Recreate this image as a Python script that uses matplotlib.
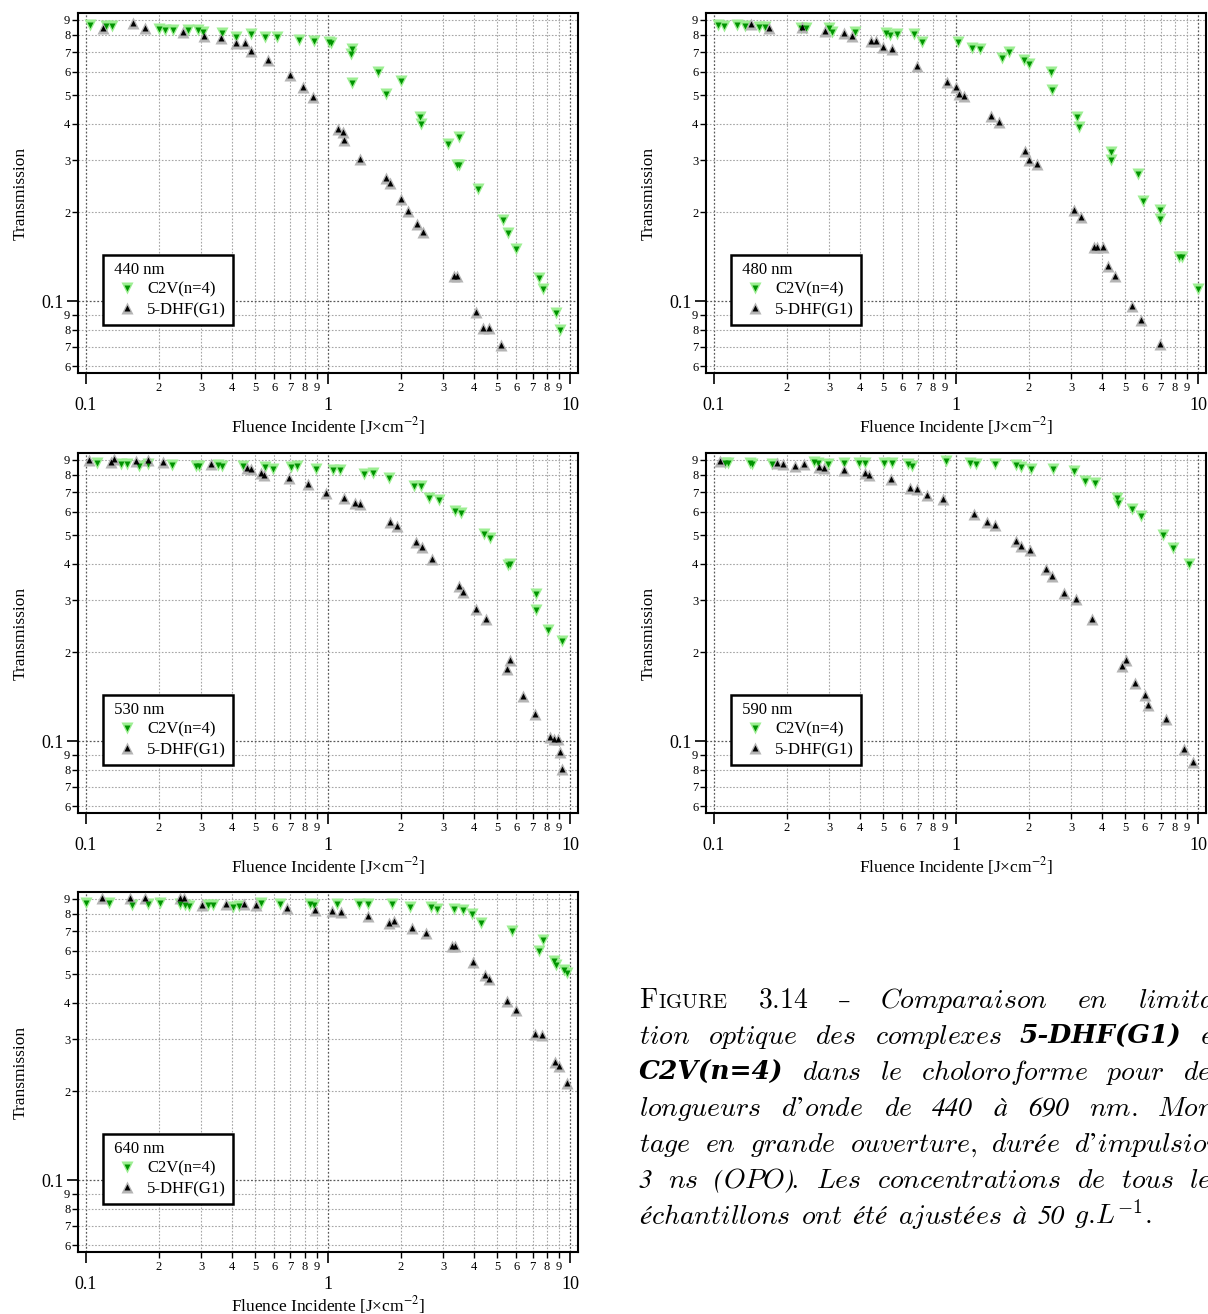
import numpy as np
import matplotlib
matplotlib.use("Agg")
import matplotlib.pyplot as plt
from matplotlib.ticker import LogLocator, FuncFormatter
from matplotlib.legend_handler import HandlerTuple
from matplotlib.transforms import IdentityTransform

plt.rcParams['font.family'] = ['Liberation Serif', 'DejaVu Serif']
plt.rcParams['mathtext.fontset'] = 'stix'

# ---------------- data ----------------
wavelengths = ["440 nm", "480 nm", "530 nm", "590 nm", "640 nm"]
series_labels = ["C2V(n=4)", "5-DHF(G1)"]

c2v_440_x = [0.104, 0.121, 0.128, 0.200, 0.212, 0.228, 0.263, 0.289, 0.305, 0.364, 0.416, 0.481, 0.547, 0.615,
             0.760, 0.874, 1.01, 1.03, 1.26, 1.25, 1.26, 1.61, 1.74, 2.00, 2.39, 2.43, 3.14, 3.49, 3.40, 3.49,
             4.16, 5.27, 5.53, 6.00, 7.46, 7.74, 8.74, 9.06]
c2v_440_y = [0.866, 0.86, 0.855, 0.84, 0.835, 0.83, 0.83, 0.83, 0.82, 0.81, 0.79, 0.805, 0.79, 0.79,
             0.77, 0.765, 0.76, 0.75, 0.715, 0.69, 0.55, 0.60, 0.505, 0.56, 0.42, 0.40, 0.34, 0.36, 0.29, 0.29,
             0.24, 0.188, 0.170, 0.150, 0.12, 0.11, 0.091, 0.080]
dhf_440_x = [0.118, 0.156, 0.175, 0.252, 0.308, 0.362, 0.416, 0.453, 0.48, 0.567, 0.694, 0.789, 0.865, 1.10,
             1.15, 1.165, 1.35, 1.74, 1.81, 2.0, 2.15, 2.34, 2.47, 3.32, 3.40, 4.08, 4.35, 4.61, 5.18]
dhf_440_y = [0.843, 0.882, 0.843, 0.817, 0.794, 0.78, 0.754, 0.75, 0.706, 0.658, 0.585, 0.531, 0.494, 0.384,
             0.374, 0.352, 0.303, 0.262, 0.252, 0.222, 0.202, 0.182, 0.171, 0.122, 0.122, 0.0915, 0.0812,
             0.0812, 0.071]

c2v_480_x = [0.104, 0.110, 0.125, 0.134, 0.153, 0.163, 0.229, 0.239, 0.298, 0.308, 0.383, 0.513, 0.532, 0.571,
             0.671, 0.726, 1.02, 1.16, 1.255, 1.555, 1.66, 1.908, 2.0, 2.48, 2.49, 3.16, 3.21, 4.36, 4.36,
             5.64, 5.95, 6.94, 6.94, 8.36, 8.61, 10.0]
c2v_480_y = [0.866, 0.86, 0.866, 0.858, 0.854, 0.854, 0.848, 0.843, 0.843, 0.817, 0.817, 0.812, 0.802, 0.806,
             0.808, 0.756, 0.756, 0.725, 0.717, 0.667, 0.698, 0.659, 0.638, 0.597, 0.519, 0.420, 0.389, 0.321,
             0.30, 0.27, 0.219, 0.203, 0.190, 0.141, 0.141, 0.110]
dhf_480_x = [0.1425, 0.169, 0.231, 0.287, 0.344, 0.372, 0.445, 0.469, 0.50, 0.545, 0.690, 0.919, 1.0, 1.031,
             1.076, 1.397, 1.50, 1.928, 2.01, 2.16, 3.07, 3.27, 3.70, 3.83, 4.05, 4.24, 4.55, 5.35, 5.80, 6.99]
dhf_480_y = [0.873, 0.848, 0.854, 0.826, 0.812, 0.795, 0.764, 0.764, 0.731, 0.718, 0.630, 0.553, 0.532, 0.504,
             0.495, 0.426, 0.404, 0.324, 0.302, 0.293, 0.203, 0.193, 0.152, 0.152, 0.152, 0.132, 0.122, 0.096,
             0.086, 0.0713]

c2v_530_x = [0.111, 0.139, 0.148, 0.166, 0.181, 0.226, 0.284, 0.294, 0.350, 0.366, 0.447, 0.547, 0.593, 0.702,
             0.747, 0.896, 1.049, 1.116, 1.415, 1.534, 1.78, 2.275, 2.42, 2.61, 2.88, 3.36, 3.56, 4.43, 4.69,
             5.57, 5.67, 7.25, 7.27, 8.09, 9.23]
c2v_530_y = [0.881, 0.874, 0.871, 0.861, 0.871, 0.867, 0.861, 0.857, 0.865, 0.857, 0.861, 0.852, 0.836, 0.852,
             0.857, 0.84, 0.83, 0.834, 0.809, 0.815, 0.78, 0.734, 0.734, 0.67, 0.658, 0.604, 0.593, 0.504, 0.49,
             0.395, 0.398, 0.316, 0.278, 0.238, 0.218]
dhf_530_x = [0.103, 0.127, 0.131, 0.161, 0.180, 0.209, 0.330, 0.464, 0.482, 0.527, 0.543, 0.689, 0.827, 0.982,
             1.17, 1.29, 1.355, 1.81, 1.93, 2.30, 2.45, 2.70, 3.47, 3.60, 4.08, 4.48, 5.47, 5.67, 6.40, 7.14,
             8.27, 8.58, 8.89, 9.06, 9.29]
dhf_530_y = [0.897, 0.888, 0.905, 0.893, 0.897, 0.886, 0.871, 0.844, 0.836, 0.815, 0.803, 0.782, 0.746, 0.693,
             0.667, 0.641, 0.637, 0.554, 0.535, 0.474, 0.456, 0.416, 0.336, 0.321, 0.28, 0.259, 0.175, 0.188,
             0.142, 0.124, 0.1035, 0.102, 0.102, 0.0918, 0.0805]

c2v_590_x = [0.111, 0.114, 0.141, 0.144, 0.174, 0.258, 0.270, 0.297, 0.346, 0.399, 0.422, 0.504, 0.545, 0.636,
             0.659, 0.909, 1.148, 1.211, 1.448, 1.763, 1.848, 2.05, 2.52, 3.07, 3.42, 3.74, 4.63, 4.68, 5.35,
             5.81, 7.17, 7.87, 9.14]
c2v_590_y = [0.882, 0.882, 0.882, 0.871, 0.871, 0.888, 0.882, 0.871, 0.882, 0.877, 0.877, 0.882, 0.877, 0.871,
             0.857, 0.89, 0.877, 0.871, 0.871, 0.867, 0.852, 0.84, 0.84, 0.823, 0.764, 0.75, 0.667, 0.641, 0.612,
             0.581, 0.499, 0.453, 0.40]
dhf_590_x = [0.1055, 0.182, 0.193, 0.217, 0.235, 0.271, 0.284, 0.344, 0.4215, 0.437, 0.541, 0.648, 0.688, 0.761,
             0.887, 1.19, 1.339, 1.448, 1.763, 1.848, 2.013, 2.348, 2.495, 2.787, 3.126, 3.633, 4.836, 5.03,
             5.48, 6.02, 6.24, 7.38, 8.73, 9.58]
dhf_590_y = [0.89, 0.877, 0.871, 0.857, 0.871, 0.852, 0.847, 0.835, 0.81, 0.80, 0.776, 0.725, 0.716, 0.683,
             0.665, 0.588, 0.556, 0.54, 0.478, 0.459, 0.445, 0.383, 0.363, 0.317, 0.304, 0.259, 0.18, 0.189,
             0.158, 0.143, 0.133, 0.1185, 0.0942, 0.085]

c2v_640_x = [0.1, 0.124, 0.155, 0.181, 0.2025, 0.245, 0.256, 0.266, 0.32, 0.334, 0.4055, 0.427, 0.527, 0.634,
             0.842, 0.874, 1.088, 1.34, 1.468, 1.841, 2.18, 2.654, 2.83, 3.316, 3.62, 3.94, 4.27, 5.74, 7.41,
             7.74, 8.58, 8.73, 9.4, 9.75]
c2v_640_y = [0.873, 0.873, 0.855, 0.866, 0.873, 0.862, 0.855, 0.85, 0.855, 0.859, 0.843, 0.85, 0.873, 0.866,
             0.866, 0.855, 0.862, 0.866, 0.866, 0.862, 0.843, 0.843, 0.83, 0.83, 0.824, 0.801, 0.744, 0.699,
             0.598, 0.655, 0.556, 0.537, 0.518, 0.504]
dhf_640_x = [0.117, 0.152, 0.175, 0.245, 0.254, 0.302, 0.38, 0.451, 0.505, 0.674, 0.886, 1.037, 1.137, 1.457,
             1.78, 1.875, 2.22, 2.54, 3.24, 3.34, 3.98, 4.44, 4.61, 5.51, 6.0, 7.19, 7.69, 8.7, 9.03, 9.75]
dhf_640_y = [0.91, 0.91, 0.91, 0.905, 0.903, 0.859, 0.866, 0.866, 0.859, 0.839, 0.828, 0.818, 0.81, 0.788,
             0.746, 0.755, 0.715, 0.69, 0.625, 0.621, 0.551, 0.497, 0.482, 0.404, 0.379, 0.313, 0.311, 0.252,
             0.243, 0.213]

c2v_x = [c2v_440_x, c2v_480_x, c2v_530_x, c2v_590_x, c2v_640_x]
c2v_y = [c2v_440_y, c2v_480_y, c2v_530_y, c2v_590_y, c2v_640_y]
dhf_x = [dhf_440_x, dhf_480_x, dhf_530_x, dhf_590_x, dhf_640_x]
dhf_y = [dhf_440_y, dhf_480_y, dhf_530_y, dhf_590_y, dhf_640_y]

x_label = "Fluence Incidente [J\u00d7cm$^{-2}$]"
y_label = "Transmission"

# ---------------- layout ----------------
W, H = 1208, 1314
fig = plt.figure(figsize=(W / 100, H / 100), dpi=100)
fig.patch.set_facecolor("white")

AW, AH = 500, 360
panel_origin = [(78, 13), (706, 13), (78, 453), (706, 453), (78, 892)]

GREEN_HALO, GREEN_CORE = "#9cee92", "#009400"
GRAY_HALO, BLACK_CORE = "#b4b4b4", "#000000"


def minor_fmt(v, pos):
    e = np.floor(np.log10(v) + 1e-9)
    return str(int(round(v / 10 ** e)))


def major_fmt(v, pos):
    if abs(v - 0.1) < 1e-9:
        return "0.1"
    return "%g" % v


def series(ax, x, y, marker, halo, core):
    h = ax.plot(x, y, ls="none", marker=marker, ms=8.2, mfc=halo, mec="none", zorder=3)[0]
    c = ax.plot(x, y, ls="none", marker=marker, ms=4.2, mfc=core, mec="none", zorder=4)[0]
    return (h, c)


for i, (l, t) in enumerate(panel_origin):
    ax = fig.add_axes([l / W, 1 - (t + AH) / H, AW / W, AH / H])
    ax.set_xscale("log")
    ax.set_yscale("log")
    ax.set_xlim(0.0927, 10.79)
    ax.set_ylim(0.0570, 0.95)
    ax.set_axisbelow(True)
    for s in ax.spines.values():
        s.set_linewidth(1.5)
    for axis in (ax.xaxis, ax.yaxis):
        axis.set_major_locator(LogLocator(base=10, numticks=10))
        axis.set_minor_locator(LogLocator(base=10, subs=np.arange(2, 10), numticks=10))
        axis.set_major_formatter(FuncFormatter(major_fmt))
        axis.set_minor_formatter(FuncFormatter(minor_fmt))
    ax.tick_params(axis="both", which="major", direction="out", length=8, width=1.2, labelsize=13)
    ax.tick_params(axis="both", which="minor", direction="out", length=4.5, width=1.0, labelsize=9)
    ax.tick_params(axis="x", which="major", pad=9)
    ax.tick_params(axis="x", which="minor", pad=2)
    ax.tick_params(axis="y", which="major", pad=2)
    ax.tick_params(axis="y", which="minor", pad=1)
    ax.grid(True, which="major", ls=(0, (1.5, 1.5)), color="0.35", lw=0.9)
    ax.grid(True, which="minor", ls=(0, (1.5, 1.5)), color="0.65", lw=0.8)

    h1 = series(ax, c2v_x[i], c2v_y[i], "v", GREEN_HALO, GREEN_CORE)
    h2 = series(ax, dhf_x[i], dhf_y[i], "^", GRAY_HALO, BLACK_CORE)

    ax.set_xlabel(x_label, fontsize=12.5)
    ax.set_ylabel(y_label, fontsize=12.5)
    ax.xaxis.set_label_coords(0.5, -0.118)
    ax.yaxis.set_label_coords(-0.098, 0.5)

    leg = ax.legend([h1, h2], series_labels, title=" " + wavelengths[i],
                    handler_map={tuple: HandlerTuple(ndivide=1, pad=0)},
                    loc="upper left", bbox_to_anchor=(0.05, 0.328), borderaxespad=0,
                    fontsize=12, title_fontsize=12, alignment="left",
                    frameon=True, fancybox=False, framealpha=1, edgecolor="black",
                    borderpad=0.4, labelspacing=0.25, handlelength=2.1, handletextpad=0.15)
    leg.get_frame().set_linewidth(1.8)

# ---------------- caption ----------------
ID = IdentityTransform()
CS = 20
BS = 19


def make_piece(s, kind, size):
    kw = dict(transform=ID, va="baseline", ha="left", fontsize=size, color="black")
    if kind == "rm":
        return fig.text(0, 0, r"$\mathrm{%s}$" % s, math_fontfamily="cm", **kw)
    if kind == "it":
        return fig.text(0, 0, r"$\mathit{%s}$" % s, math_fontfamily="cm", **kw)
    if kind == "math":
        return fig.text(0, 0, s, math_fontfamily="cm", **kw)
    if kind == "bfit":
        return fig.text(0, 0, s, family="DejaVu Serif", weight="bold", style="italic", **kw)
    if kind == "itxt":
        return fig.text(0, 0, s, family="STIXGeneral", style="italic", **kw)
    return fig.text(0, 0, s, family="DejaVu Serif", **kw)


def W_(text, kind="it", size=CS):
    return [(text, kind, size)]


NS = 19.5
cap_lines = [
    [[("F", "rm", CS), ("IGURE", "rm", 14.9)], W_("3.14", "rm"), W_("\u2013", "txt", 18),
     W_("Comparaison"), W_("en"), [("limita", "it", CS), ("-", "txt", 18)]],
    [W_("tion"), W_("optique"), W_("des"), W_("complexes"), W_("5-DHF(G1)", "bfit", BS), W_("et")],
    [W_("C2V(n=4)", "bfit", BS), W_("dans"), W_("le"), W_("choloroforme"), W_("pour"), W_("des")],
    [W_("longueurs"), W_("d\u2019onde"), W_("de"), W_("440", "itxt", NS), W_("\u00e0"), W_("690", "itxt", NS),
     W_("nm."), [("Mon", "it", CS), ("-", "txt", 18)]],
    [W_("tage"), W_("en"), W_("grande"), W_("ouverture,"), W_("dur\u00e9e"), W_("d\u2019impulsion")],
    [W_("3", "itxt", NS), W_("ns"), [("(", "itxt", NS), ("OPO", "it", CS), (").", "itxt", NS)], W_("Les"),
     W_("concentrations"), W_("de"), W_("tous"), W_("les")],
    [W_("\u00e9chantillons"), W_("ont"), W_("\u00e9t\u00e9"), W_("ajust\u00e9es"), W_("\u00e0"),
     W_("50", "itxt", NS), W_(r"$\mathit{g}\mathrm{.}\!\mathit{L}^{-1}\mathrm{.}$", "math")],
]

renderer = fig.canvas.get_renderer()
L, R = 639, 1224
base0, lead = 1008, 36
for li, words in enumerate(cap_lines):
    arts = []
    widths = []
    for word in words:
        ps = [make_piece(s, k, sz) for (s, k, sz) in word]
        ws = [p.get_window_extent(renderer).width for p in ps]
        arts.append((ps, ws))
        widths.append(sum(ws))
    n = len(words)
    if li < len(cap_lines) - 1:
        gap = max((R - L - sum(widths)) / (n - 1), 8)
    else:
        gap = 10
    x = L
    ybase = H - (base0 + li * lead)
    for (ps, ws) in arts:
        xx = x
        for p, w in zip(ps, ws):
            p.set_position((xx, ybase))
            xx += w
        x = xx + gap

fig.savefig("out.png", dpi=100)
